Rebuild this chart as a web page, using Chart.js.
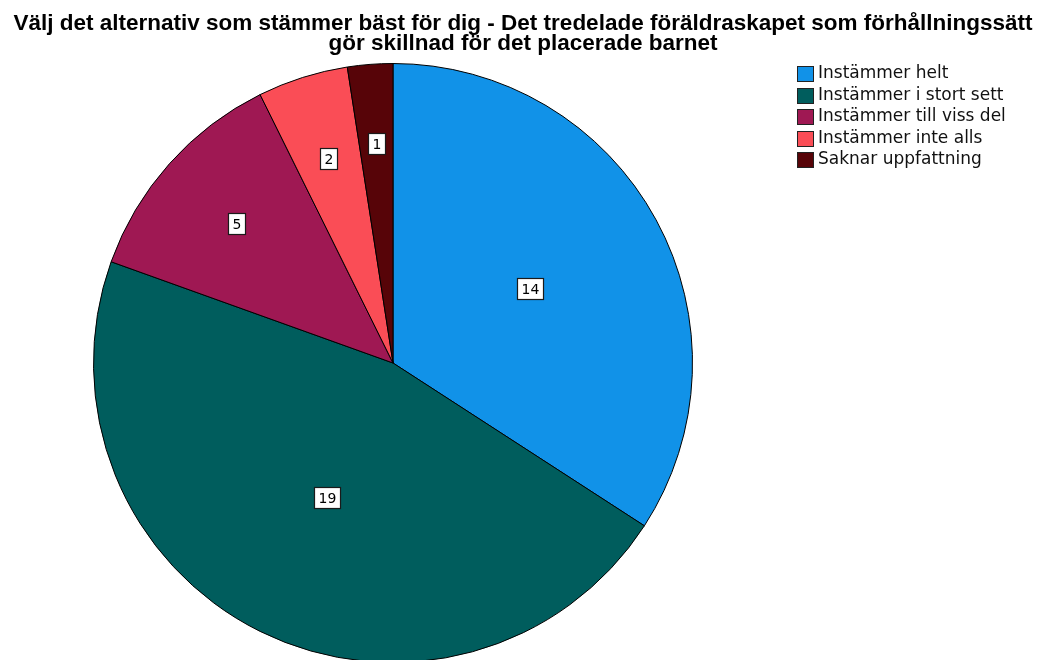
<!DOCTYPE html>
<html>
<head>
<meta charset="utf-8">
<script src="https://cdn.jsdelivr.net/npm/chart.js@4.4.1/dist/chart.umd.min.js"></script>
<style>
  html, body { margin: 0; padding: 0; background: #fff; overflow: hidden; }
  #wrap { position: relative; width: 1040px; height: 680px; }
  #title {
    position: absolute; left: 3px; top: 13px; width: 1040px;
    text-align: center; font-family: "Liberation Sans", Arial, sans-serif;
    font-weight: bold; font-size: 22.5px; line-height: 20px; color: #000;
  }
  canvas { position: absolute; left: 0; top: 0; }
</style>
</head>
<body>
<div id="wrap">
  <canvas id="c" width="1040" height="680"></canvas>
  <div id="title">Välj det alternativ som stämmer bäst för dig - Det tredelade föräldraskapet som förhållningssätt<br>gör skillnad för det placerade barnet</div>
</div>
<script>
const categories = ["Instämmer helt", "Instämmer i stort sett", "Instämmer till viss del", "Instämmer inte alls", "Saknar uppfattning"];
const counts = [14, 19, 5, 2, 1];
const colors = ["#1192e8", "#005d5d", "#9f1853", "#fa4d56", "#570408"];

const labelRadius = [0.52, 0.50, 0.70, 0.715, 0.735];

const sliceLabels = {
  id: 'sliceLabels',
  afterDatasetsDraw(chart) {
    const ctx = chart.ctx;
    const meta = chart.getDatasetMeta(0);
    ctx.save();
    ctx.font = '14px "DejaVu Sans", sans-serif';
    ctx.textAlign = 'center';
    ctx.textBaseline = 'middle';
    meta.data.forEach((arc, i) => {
      const p = arc.getProps(['x', 'y', 'startAngle', 'endAngle', 'outerRadius'], true);
      const mid = (p.startAngle + p.endAngle) / 2;
      const r = p.outerRadius * labelRadius[i];
      const x = p.x + Math.cos(mid) * r;
      const y = p.y + Math.sin(mid) * r;
      const txt = String(chart.data.datasets[0].data[i]);
      const w = Math.round(ctx.measureText(txt).width + 8);
      const h = 21;
      const bx = Math.round(x - w / 2) + 0.5, by = Math.round(y - h / 2) + 0.5;
      ctx.fillStyle = '#ffffff';
      ctx.fillRect(bx, by, w, h);
      ctx.strokeStyle = '#1a1a1a';
      ctx.lineWidth = 1.2;
      ctx.strokeRect(bx, by, w, h);
      ctx.fillStyle = '#000000';
      ctx.fillText(txt, bx + w / 2, by + h / 2 + 1);
    });
    ctx.restore();
  }
};

const sideLegend = {
  id: 'sideLegend',
  afterDraw(chart) {
    const ctx = chart.ctx;
    ctx.save();
    ctx.font = '17px "DejaVu Sans", sans-serif';
    ctx.textAlign = 'left';
    ctx.textBaseline = 'middle';
    const x0 = 797, y0 = 66, step = 21.5;
    chart.data.labels.forEach((lab, i) => {
      const y = Math.round(y0 + i * step);
      ctx.fillStyle = colors[i];
      ctx.fillRect(x0 + 0.5, y + 0.5, 16, 15);
      ctx.strokeStyle = '#222';
      ctx.lineWidth = 1;
      ctx.strokeRect(x0 + 0.5, y + 0.5, 16, 15);
      ctx.fillStyle = '#111';
      ctx.fillText(lab, 818, y + 8);
    });
    ctx.restore();
  }
};

new Chart(document.getElementById('c'), {
  type: 'pie',
  data: {
    labels: categories,
    datasets: [{
      data: counts,
      backgroundColor: colors,
      borderColor: '#000000',
      borderWidth: 1
    }]
  },
  options: {
    responsive: false,
    animation: false,
    devicePixelRatio: 1,
    layout: { padding: { left: 93, right: 347, top: 63, bottom: 17 } },
    plugins: {
      legend: { display: false },
      tooltip: { enabled: false },
      title: { display: false }
    }
  },
  plugins: [sliceLabels, sideLegend]
});
</script>
</body>
</html>
